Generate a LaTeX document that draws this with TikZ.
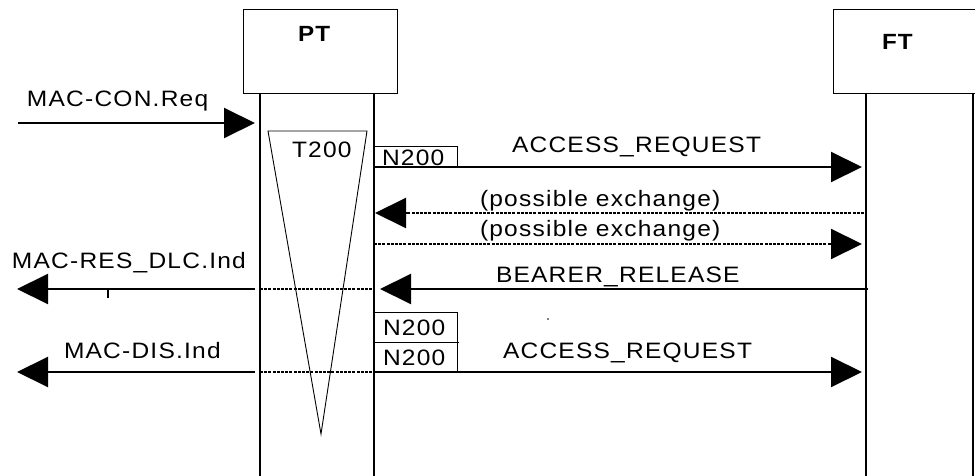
\documentclass[tikz,border=0pt]{standalone}
\usepackage{fontspec}
\setmainfont{Liberation Sans}[LetterSpace=5.5,FakeStretch=1.1]
\usetikzlibrary{arrows.meta}
\begin{document}
\begin{tikzpicture}[x=1pt,y=-1pt,
  lbl/.style={anchor=base west, inner sep=0pt, outer sep=0pt, font=\fontsize{22.3}{25}\selectfont},
  boldlbl/.style={lbl, font=\fontsize{22}{25}\selectfont\bfseries},
  msg/.style={line width=2pt, -{Triangle[length=31pt,width=30pt]}},
  msgdot/.style={msg, dash pattern=on 3pt off 1.2pt},
  dotl/.style={line width=1.6pt, dash pattern=on 3pt off 1.2pt},
  life/.style={line width=2.2pt},
  thinl/.style={line width=0.9pt},
  entbox/.style={draw, thinl, anchor=north west, inner sep=0pt, minimum width=154pt, minimum height=84pt},
  nbox/.style={draw, thinl, anchor=north west, inner sep=0pt, minimum width=83pt}]
\useasboundingbox (0,0) rectangle (975,476);
% entity boxes
\node[entbox] (ptbox) at (243,9) {};
\node[entbox, minimum width=145pt] (ftbox) at (833,9) {};
\node[boldlbl] (ptl) at (298,42) {PT};
\node[boldlbl] (ftl) at (882,50) {FT};
% lifelines
\coordinate (pa1) at (260,93); \coordinate (pa2) at (260,476);
\coordinate (pb1) at (374,93); \coordinate (pb2) at (374,476);
\coordinate (fa1) at (866,93); \coordinate (fa2) at (866,476);
\coordinate (fb1) at (973,93); \coordinate (fb2) at (973,476);
\draw[life] (pa1) -- (pa2);
\draw[life] (pb1) -- (pb2);
\draw[life] (fa1) -- (fa2);
\draw[life] (fb1) -- (fb2);
% T200 timer
\coordinate (t1) at (268,131); \coordinate (t2) at (367,131); \coordinate (t3) at (321,434);
\draw[thinl] (t1) -- (t2) -- (t3) -- cycle;
\node[lbl] (t200) at (292,158) {T200};
% N200 boxes
\node[nbox, minimum height=21pt] (n1) at (374,146) {};
\node[lbl] (n1l) at (382,166) {N200};
\node[nbox, minimum height=30pt] (n2) at (374,312) {};
\node[nbox, minimum height=30pt] (n3) at (374,342) {};
\node[lbl] (n2l) at (383,335) {N200};
\node[lbl] (n3l) at (383,365) {N200};
\coordinate (nm1) at (374,342); \coordinate (nm2) at (459,342);
\draw[thinl] (nm1) -- (nm2);
% messages
\coordinate (m1a) at (18,123); \coordinate (m1b) at (255,123);
\draw[msg] (m1a) -- (m1b);
\node[lbl] (m1l) at (27,107) {MAC-CON.Req};

\coordinate (m2a) at (374,167); \coordinate (m2b) at (862,167);
\draw[msg] (m2a) -- (m2b);
\node[lbl] (m2l) at (512,153) {ACCESS\_REQUEST};

\coordinate (m3a) at (864,213); \coordinate (m3b) at (375,213);
\draw[msgdot] (m3a) -- (m3b);
\node[lbl] (m3l) at (480,207) {(possible exchange)};

\coordinate (m4a) at (374,244); \coordinate (m4b) at (862,244);
\draw[msgdot] (m4a) -- (m4b);
\node[lbl] (m4l) at (480,236) {(possible exchange)};

\coordinate (m5a) at (868,289); \coordinate (m5b) at (380,289);
\draw[msg] (m5a) -- (m5b);
\node[lbl] (m5l) at (496,282) {BEARER\_RELEASE};
\coordinate (m5c) at (260,289); \coordinate (m5d) at (374,289);
\draw[dotl] (m5c) -- (m5d);
\coordinate (m5e) at (255,289); \coordinate (m5f) at (17,289);
\draw[msg] (m5e) -- (m5f);
\node[lbl] (m5m) at (12,268) {MAC-RES\_DLC.Ind};
\coordinate (tk1) at (108,289); \coordinate (tk2) at (108,298);
\draw[line width=2pt] (tk1) -- (tk2);

\coordinate (m6a) at (374,372); \coordinate (m6b) at (862,372);
\draw[msg] (m6a) -- (m6b);
\node[lbl] (m6l) at (503,358) {ACCESS\_REQUEST};
\coordinate (m7c) at (260,372); \coordinate (m7d) at (374,372);
\draw[dotl] (m7c) -- (m7d);
\coordinate (m7e) at (255,372); \coordinate (m7f) at (17,372);
\draw[msg] (m7e) -- (m7f);
\node[lbl] (m7l) at (64,358) {MAC-DIS.Ind};
% stray dot
\fill (548,319) circle (0.8pt);
\end{tikzpicture}
\end{document}
